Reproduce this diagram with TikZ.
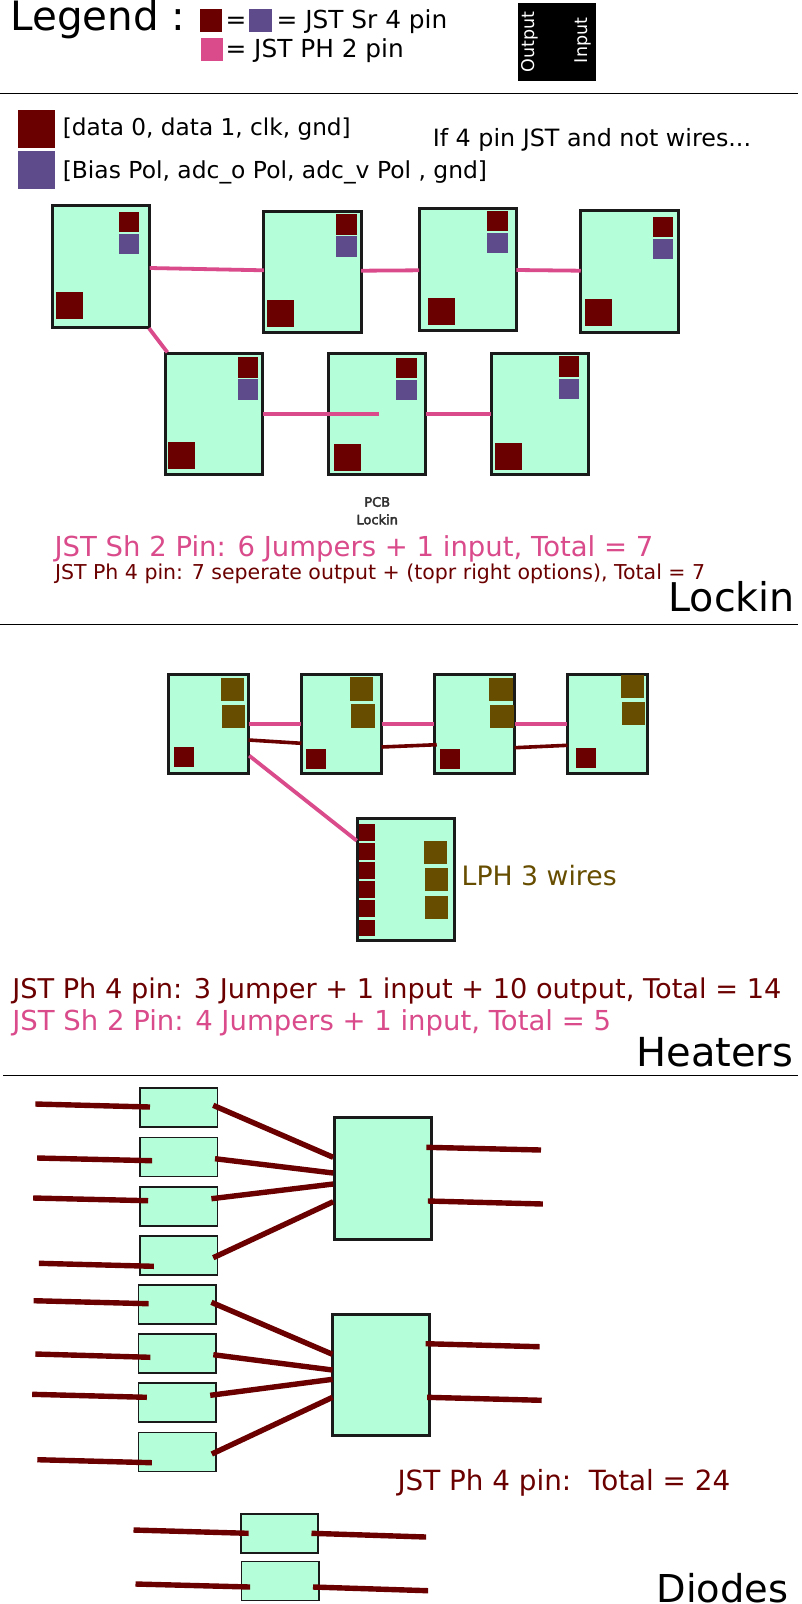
\documentclass[tikz,border=0pt]{standalone}
\usepackage{fontspec}
\setmainfont{DejaVu Sans}
\newfontfamily\pcbfont{DejaVu Sans}[RawFeature={embolden=3}]
\usetikzlibrary{calc}
\definecolor{pcbgreen}{HTML}{B4FFD9}
\definecolor{pcbedge}{HTML}{1A1A1A}
\definecolor{jstred}{HTML}{6B0000}
\definecolor{jstblue}{HTML}{5E4B8B}
\definecolor{jstpink}{HTML}{D94B8B}
\definecolor{jstbrown}{HTML}{664D00}
\tikzset{
  pcbbox/.style={draw=pcbedge,fill=pcbgreen,inner sep=0pt,outer sep=0pt},
  lockinboard/.style={pcbbox,line width=3pt,minimum width=97.3pt,minimum height=121.5pt},
  heaterboard/.style={pcbbox,line width=2.8pt,minimum width=80.1pt,minimum height=99.4pt},
  lphboard/.style={pcbbox,line width=2.8pt,minimum width=97.4pt,minimum height=121.7pt},
  diodebox/.style={pcbbox,line width=1.5pt,minimum width=77.3pt,minimum height=39pt},
  mainbox/.style={pcbbox,line width=3pt,minimum width=97.1pt,minimum height=121.1pt},
  pad/.style={anchor=north west,inner sep=0pt,outer sep=0pt},
  padtop/.style={pad,minimum width=20.5pt,minimum height=20.4pt},
  padlow/.style={pad,fill=jstred,minimum width=27pt,minimum height=26.8pt},
  padlegend/.style={pad,minimum width=22.6pt,minimum height=22.7pt},
  padkey/.style={pad,minimum width=37.3pt,minimum height=37.5pt},
  padbrown/.style={pad,fill=jstbrown,minimum width=23.3pt,minimum height=23.3pt},
  padheat/.style={pad,fill=jstred,minimum width=20.3pt,minimum height=20.3pt},
  padlph/.style={pad,fill=jstred,minimum width=16.7pt,minimum height=16.7pt},
  jumper/.style={draw=jstpink,line width=3.8pt},
  sigwire/.style={draw=jstred,line width=3.6pt},
  diodewire/.style={draw=jstred,line width=5.4pt},
  rule/.style={draw=black,line width=1pt},
  txt/.style={anchor=base west,inner sep=0pt,outer sep=0pt},
  txtbig/.style={txt,font=\fontsize{40.4}{40.4}\selectfont},
  txtmid/.style={txt,font=\fontsize{24.8}{24.8}\selectfont},
  txtkey/.style={txt,font=\fontsize{23.4}{23.4}\selectfont},
  txtside/.style={anchor=base west,rotate=90,inner sep=0pt,text=white,font=\fontsize{17.5}{17.5}\selectfont},
  txtpcb/.style={anchor=base,inner sep=0pt,text=pcbedge!90!white,font=\pcbfont\fontsize{13}{13}\selectfont},
}
\begin{document}
\begin{tikzpicture}[x=1pt,y=-1pt]
\useasboundingbox (0,0) rectangle (802,1604);
% legend
\node[txtbig] (legendtxt) at (10.5,30) {Legend :};
\node[padlegend,fill=jstred] (keyred) at (199.5,9.3) {};
\node[txtmid] (keyeq) at (225.6,28.5) {=};
\node[padlegend,fill=jstblue] (keyblue) at (249,9.3) {};
\node[txtmid] (keysr) at (276.7,28.5) {= JST Sr 4 pin};
\node[padlegend,fill=jstpink] (keypink) at (200.5,38.3) {};
\node[txtmid] (keyph) at (225.6,57.7) {= JST PH 2 pin};
\node[pad,fill=black,minimum width=78.4pt,minimum height=78pt] (sidebox) at (517.6,3.3) {};
\node[txtside] (sideout) at (534.5,72.7) {Output};
\node[txtside] (sidein) at (587,63.3) {Input};
\draw[rule] (0,93.3) -- (798,93.3);
% lockin
\node[padkey,fill=jstred] (padred) at (17.9,110.3) {};
\node[padkey,fill=jstblue] (padblue) at (17.9,151.3) {};
\node[txtkey,font=\fontsize{23.2}{23.2}\selectfont] (datatxt) at (62.8,135) {[data 0, data 1, clk, gnd]};
\node[txtkey] (biastxt) at (62.8,178) {[Bias Pol, adc\_o Pol, adc\_v Pol , gnd]};
\node[txtkey,font=\fontsize{23.8}{23.8}\selectfont] (iftxt) at (432.8,146.7) {If 4 pin JST and not wires...};
\node[lockinboard] (lb1) at (101.05,266.5) {};
\node[lockinboard] (lb2) at (312.55,271.85) {};
\node[lockinboard] (lb3) at (467.75,269.7) {};
\node[lockinboard] (lb4) at (629.4,271.3) {};
\node[lockinboard] (lb5) at (214.05,414) {};
\node[lockinboard] (lb6) at (377,414) {};
\node[lockinboard] (lb7) at (539.9,414) {};
\node[padtop,fill=jstred] (lr1) at (118.7,211.7) {};
\node[padtop,fill=jstblue] (lp1) at (118.7,233.7) {};
\node[padlow] (ll1) at (55.8,292.3) {};
\node[padtop,fill=jstred] (lr2) at (336,214.3) {};
\node[padtop,fill=jstblue] (lp2) at (336,236.3) {};
\node[padlow] (ll2) at (267,299.7) {};
\node[padtop,fill=jstred] (lr3) at (487,211) {};
\node[padtop,fill=jstblue] (lp3) at (487,233) {};
\node[padlow] (ll3) at (428.1,298) {};
\node[padtop,fill=jstred] (lr4) at (652.7,216.7) {};
\node[padtop,fill=jstblue] (lp4) at (652.7,238.7) {};
\node[padlow] (ll4) at (585.2,299) {};
\node[padtop,fill=jstred] (lr5) at (237.9,357.3) {};
\node[padtop,fill=jstblue] (lp5) at (237.9,379.3) {};
\node[padlow] (ll5) at (167.8,442) {};
\node[padtop,fill=jstred] (lr6) at (396.4,357.7) {};
\node[padtop,fill=jstblue] (lp6) at (396.4,380) {};
\node[padlow] (ll6) at (333.5,444) {};
\node[padtop,fill=jstred] (lr7) at (558.6,356.3) {};
\node[padtop,fill=jstblue] (lp7) at (558.6,378.7) {};
\node[padlow] (ll7) at (495.1,443) {};
\draw[jumper] ($(lb1.east)+(0,1.5)$) -- ($(lb2.west)+(0,-1.55)$);
\draw[jumper] ($(lb2.east)+(0,-1.15)$) -- ($(lb3.west)+(0,.6)$);
\draw[jumper] ($(lb3.east)+(0,.3)$) -- ($(lb4.west)+(0,-.6)$);
\draw[jumper] ($(lb1.south east)+(-.7,1)$) -- ($(lb5.north west)+(2,-.9)$);
\draw[jumper] (lb5.east) -- ($(lb6.center)+(2,0)$);
\draw[jumper] (lb6.east) -- (lb7.west);
\node[txtpcb] (pcbtxt) at (377.2,506.7) {PCB};
\node[txtpcb] (pcbname) at (377.2,524.3) {Lockin};
\node[txt,text=jstpink,font=\fontsize{27.5}{27.5}\selectfont] (lockinsh) at (54.6,556) {JST Sh 2 Pin: 6 Jumpers + 1 input, Total = 7};
\node[txt,text=jstred,font=\fontsize{20.5}{20.5}\selectfont] (lockinph) at (55,579) {JST Ph 4 pin: 7 seperate output + (topr right options), Total = 7};
\node[txtbig,font=\fontsize{39.6}{39.6}\selectfont] (lockintxt) at (668.5,611.7) {Lockin};
\draw[rule] (0,624.3) -- (798,624.3);
% heaters
\node[heaterboard] (hb1) at (208.5,723.85) {};
\node[heaterboard] (hb2) at (341.5,723.85) {};
\node[heaterboard] (hb3) at (474.5,723.85) {};
\node[heaterboard] (hb4) at (607.5,723.85) {};
\node[padbrown] (ha1) at (220.7,677.7) {};
\node[padbrown] (hc1) at (221.7,705) {};
\node[padheat] (hr1) at (173.7,747) {};
\node[padbrown] (ha2) at (350,677.3) {};
\node[padbrown] (hc2) at (351.3,704.3) {};
\node[padheat] (hr2) at (305.7,749) {};
\node[padbrown] (ha3) at (489.3,677.7) {};
\node[padbrown] (hc3) at (490.3,705) {};
\node[padheat] (hr3) at (439.7,749) {};
\node[padbrown] (ha4) at (621,675) {};
\node[padbrown] (hc4) at (622,702) {};
\node[padheat] (hr4) at (575.7,748) {};
\node[lphboard] (lph) at (405.85,879.7) {};
\node[padlph] (lphr1) at (358.7,824) {};
\node[padlph] (lphr2) at (358.7,843) {};
\node[padlph] (lphr3) at (358.7,862.3) {};
\node[padlph] (lphr4) at (358.7,881.3) {};
\node[padlph] (lphr5) at (358.7,900.3) {};
\node[padlph] (lphr6) at (358.7,919.7) {};
\node[padbrown] (lphb1) at (424,840.7) {};
\node[padbrown] (lphb2) at (425,867.7) {};
\node[padbrown] (lphb3) at (425,896) {};
\draw[jumper] (hb1.east) -- (hb2.west);
\draw[jumper] (hb2.east) -- (hb3.west);
\draw[jumper] (hb3.east) -- (hb4.west);
\draw[sigwire] ($(hb1.east)+(0,16.15)$) -- ($(hb2.west)+(0,19.45)$);
\draw[sigwire] ($(hb2.east)+(0,23.15)$) -- ($(hb3.west)+(2.3,20.85)$);
\draw[sigwire] ($(hb3.east)+(0,23.85)$) -- ($(hb4.west)+(0,21.45)$);
\draw[jumper] ($(hb1.east)+(.7,31.85)$) -- ($(lph.west)+(-.4,-39)$);
\node[txt,text=jstbrown,font=\fontsize{26.7}{26.7}\selectfont] (lphtxt) at (461.7,885.7) {LPH 3 wires};
\node[txt,text=jstred,font=\fontsize{27.2}{27.2}\selectfont] (heaterph) at (12.3,998.5) {JST Ph 4 pin: 3 Jumper + 1 input + 10 output, Total = 14};
\node[txt,text=jstpink,font=\fontsize{27.5}{27.5}\selectfont] (heatersh) at (12.3,1030) {JST Sh 2 Pin: 4 Jumpers + 1 input, Total = 5};
\node[txtbig,font=\fontsize{40}{40}\selectfont] (heatertxt) at (636.5,1066) {Heaters};
\draw[rule] (3,1075.3) -- (798,1075.3);
% diodes
\node[diodebox] (db1) at (178.6,1107.65) {};
\node[diodebox] (db2) at (178.6,1157.15) {};
\node[diodebox] (db3) at (178.6,1206.3) {};
\node[diodebox] (db4) at (178.6,1255.5) {};
\node[diodebox] (db5) at (177.35,1304.3) {};
\node[diodebox] (db6) at (177.35,1353.3) {};
\node[diodebox] (db7) at (177.35,1402.7) {};
\node[diodebox] (db8) at (177.35,1452) {};
\node[diodebox] (db9) at (279.55,1533.5) {};
\node[diodebox] (db10) at (280.3,1580.85) {};
\node[mainbox] (dm1) at (382.7,1178.5) {};
\node[mainbox] (dm2) at (381.2,1375) {};
\coordinate (in1) at (35.4,1104);
\coordinate (in2) at (37.1,1158);
\coordinate (in3) at (33.2,1198);
\coordinate (in4) at (38.9,1263.3);
\coordinate (in5) at (33.6,1300.7);
\coordinate (in6) at (35.3,1354);
\coordinate (in7) at (32.2,1394.3);
\coordinate (in8) at (37.3,1459.7);
\coordinate (in9) at (133.5,1530);
\coordinate (in10) at (135.5,1584);
\coordinate (out1) at (541,1150);
\coordinate (out2) at (542.9,1204);
\coordinate (out3) at (539.6,1346.7);
\coordinate (out4) at (541.7,1400.3);
\coordinate (out9) at (426.1,1537);
\coordinate (out10) at (428.1,1590.7);
\draw[diodewire] (in1) -- ($(db1)+(-28.6,-.65)$);
\draw[diodewire] (in2) -- ($(db2)+(-26.5,3.55)$);
\draw[diodewire] (in3) -- ($(db3)+(-30.4,-5.6)$);
\draw[diodewire] (in4) -- ($(db4)+(-24.7,10.8)$);
\draw[diodewire] (in5) -- ($(db5)+(-28.75,-.6)$);
\draw[diodewire] (in6) -- ($(db6)+(-26.95,4)$);
\draw[diodewire] (in7) -- ($(db7)+(-30.55,-5.4)$);
\draw[diodewire] (in8) -- ($(db8)+(-25.45,10.7)$);
\draw[diodewire] (in9) -- ($(db9)+(-30.95,-.2)$);
\draw[diodewire] (in10) -- ($(db10)+(-30.2,6.15)$);
\draw[diodewire] ($(db1)+(34.6,-2.35)$) -- ($(dm1)+(-49.5,-21.2)$);
\draw[diodewire] ($(db2)+(36.4,1.55)$) -- ($(dm1)+(-49.5,-5.5)$);
\draw[diodewire] ($(db3)+(32.8,-7.6)$) -- ($(dm1)+(-49.5,5.5)$);
\draw[diodewire] ($(db4)+(34.6,2.2)$) -- ($(dm1)+(-49.5,23.2)$);
\draw[diodewire] ($(db5)+(34.05,-2)$) -- ($(dm2)+(-48.7,-20.7)$);
\draw[diodewire] ($(db6)+(35.95,1.4)$) -- ($(dm2)+(-48.7,-5)$);
\draw[diodewire] ($(db7)+(32.85,-7.4)$) -- ($(dm2)+(-48.7,4.3)$);
\draw[diodewire] ($(db8)+(34.45,2)$) -- ($(dm2)+(-48.7,22.3)$);
\draw[diodewire] ($(dm1)+(43.7,-31.2)$) -- (out1);
\draw[diodewire] ($(dm1)+(45.2,22.5)$) -- (out2);
\draw[diodewire] ($(dm2)+(44.4,-31.3)$) -- (out3);
\draw[diodewire] ($(dm2)+(45.9,22.3)$) -- (out4);
\draw[diodewire] ($(db9)+(31.95,-.2)$) -- (out9);
\draw[diodewire] ($(db10)+(32.7,6.15)$) -- (out10);
\node[txt,text=jstred,font=\fontsize{27.8}{27.8}\selectfont] (diodeph) at (397.5,1490) {JST Ph 4 pin:\ \ Total = 24};
\node[txtbig,font=\fontsize{38.4}{38.4}\selectfont] (diodetxt) at (656.5,1602.5) {Diodes};
\end{tikzpicture}
\end{document}
